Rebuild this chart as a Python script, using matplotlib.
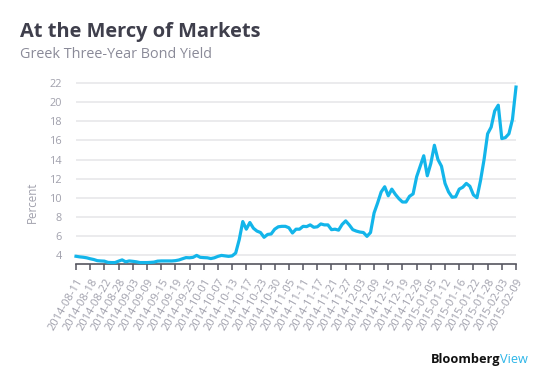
import numpy as np
import matplotlib.pyplot as plt

# Greek three-year bond yield, one value per trading day
yields = [
    3.86, 3.80, 3.76, 3.70, 3.60, 3.52, 3.40, 3.37, 3.35, 3.22,
    3.20, 3.20, 3.35, 3.48, 3.28, 3.37, 3.33, 3.28, 3.20, 3.20,
    3.20, 3.22, 3.25, 3.35, 3.37, 3.37, 3.37, 3.37, 3.40, 3.47,
    3.60, 3.72, 3.70, 3.75, 3.95, 3.75, 3.72, 3.70, 3.62, 3.70,
    3.85, 3.95, 3.90, 3.85, 3.90, 4.20, 5.60, 7.50, 6.70, 7.40,
    6.80, 6.50, 6.35, 5.85, 6.15, 6.20, 6.70, 6.95, 7.00, 7.00,
    6.85, 6.30, 6.70, 6.70, 7.00, 6.97, 7.15, 6.90, 6.95, 7.25,
    7.15, 7.15, 6.65, 6.70, 6.60, 7.20, 7.57, 7.15, 6.65, 6.50,
    6.40, 6.35, 5.95, 6.35, 8.40, 9.45, 10.60, 11.15, 10.20, 10.90,
    10.35, 9.90, 9.55, 9.55, 10.15, 10.40, 12.20, 13.30, 14.40, 12.30,
    13.60, 15.50, 14.00, 13.30, 11.50, 10.60, 10.05, 10.10, 10.90, 11.10,
    11.50, 11.20, 10.30, 10.00, 11.80, 14.00, 16.70, 17.40, 19.10, 19.70,
    16.20, 16.30, 16.70, 18.20, 21.60,
]

# tick labels, one every fourth trading day
tick_labels = [
    "2014-08-11", "2014-08-18", "2014-08-22", "2014-08-28", "2014-09-03",
    "2014-09-09", "2014-09-15", "2014-09-19", "2014-09-25", "2014-10-01",
    "2014-10-07", "2014-10-13", "2014-10-17", "2014-10-23", "2014-10-30",
    "2014-11-05", "2014-11-11", "2014-11-17", "2014-11-21", "2014-11-27",
    "2014-12-03", "2014-12-09", "2014-12-15", "2014-12-19", "2014-12-29",
    "2015-01-05", "2015-01-12", "2015-01-16", "2015-01-22", "2015-01-28",
    "2015-02-03", "2015-02-09",
]
y_ticks = [4, 6, 8, 10, 12, 14, 16, 18, 20, 22]

plt.rcParams['font.family'] = ['Open Sans', 'DejaVu Sans']

W, H = 557, 392
fig = plt.figure(figsize=(W / 100, H / 100), dpi=100)
ax = fig.add_axes([76 / W, 1 - 264 / H, 440 / W, 183.6 / H])

x = np.arange(len(yields))
ax.plot(x, yields, color='#13b5ea', lw=2.3, solid_joinstyle='round', clip_on=False, zorder=3)

ax.set_xlim(0, len(yields) - 1)
ax.set_ylim(3.05, 22.3)

ax.set_xticks(np.arange(0, len(yields), 4))
ax.set_xticklabels(tick_labels, rotation=60, ha='right', va='top',
                   rotation_mode='anchor', fontsize=8, color='#a0a0ac')
ax.set_yticks(y_ticks)
ax.set_yticklabels([str(v) for v in y_ticks], fontsize=7.8, color='#a0a0ac')

ax.grid(axis='y', color='#e8e8ea', lw=1.2)
ax.set_axisbelow(True)
for s in ['top', 'right', 'left']:
    ax.spines[s].set_visible(False)
ax.spines['bottom'].set_color('#55555f')
ax.spines['bottom'].set_linewidth(1.2)
ax.tick_params(axis='x', direction='out', length=4, width=1.1, color='#55555f', pad=5)
ax.tick_params(axis='y', length=0, pad=10)

fig.text(32 / W, 1 - 202 / H, 'Percent', rotation=90, ha='center', va='center',
         fontsize=8.3, color='#a0a0ac')

fig.text(20 / W, 1 - 37.5 / H, 'At the Mercy of Markets', fontsize=14.4,
         fontweight='bold', color='#3f3f4c', ha='left', va='baseline')
fig.text(20 / W, 1 - 57.5 / H, 'Greek Three-Year Bond Yield', fontsize=10.4,
         color='#8a8a98', ha='left', va='baseline')

fig.text(500 / W, 1 - 363 / H, 'Bloomberg', fontsize=9.2, fontweight='bold',
         color='#111111', ha='right', va='baseline')
fig.text(500.5 / W, 1 - 363 / H, 'View', fontsize=9.2, color='#2bb5e8',
         ha='left', va='baseline')

fig.savefig('out.png', dpi=100)
